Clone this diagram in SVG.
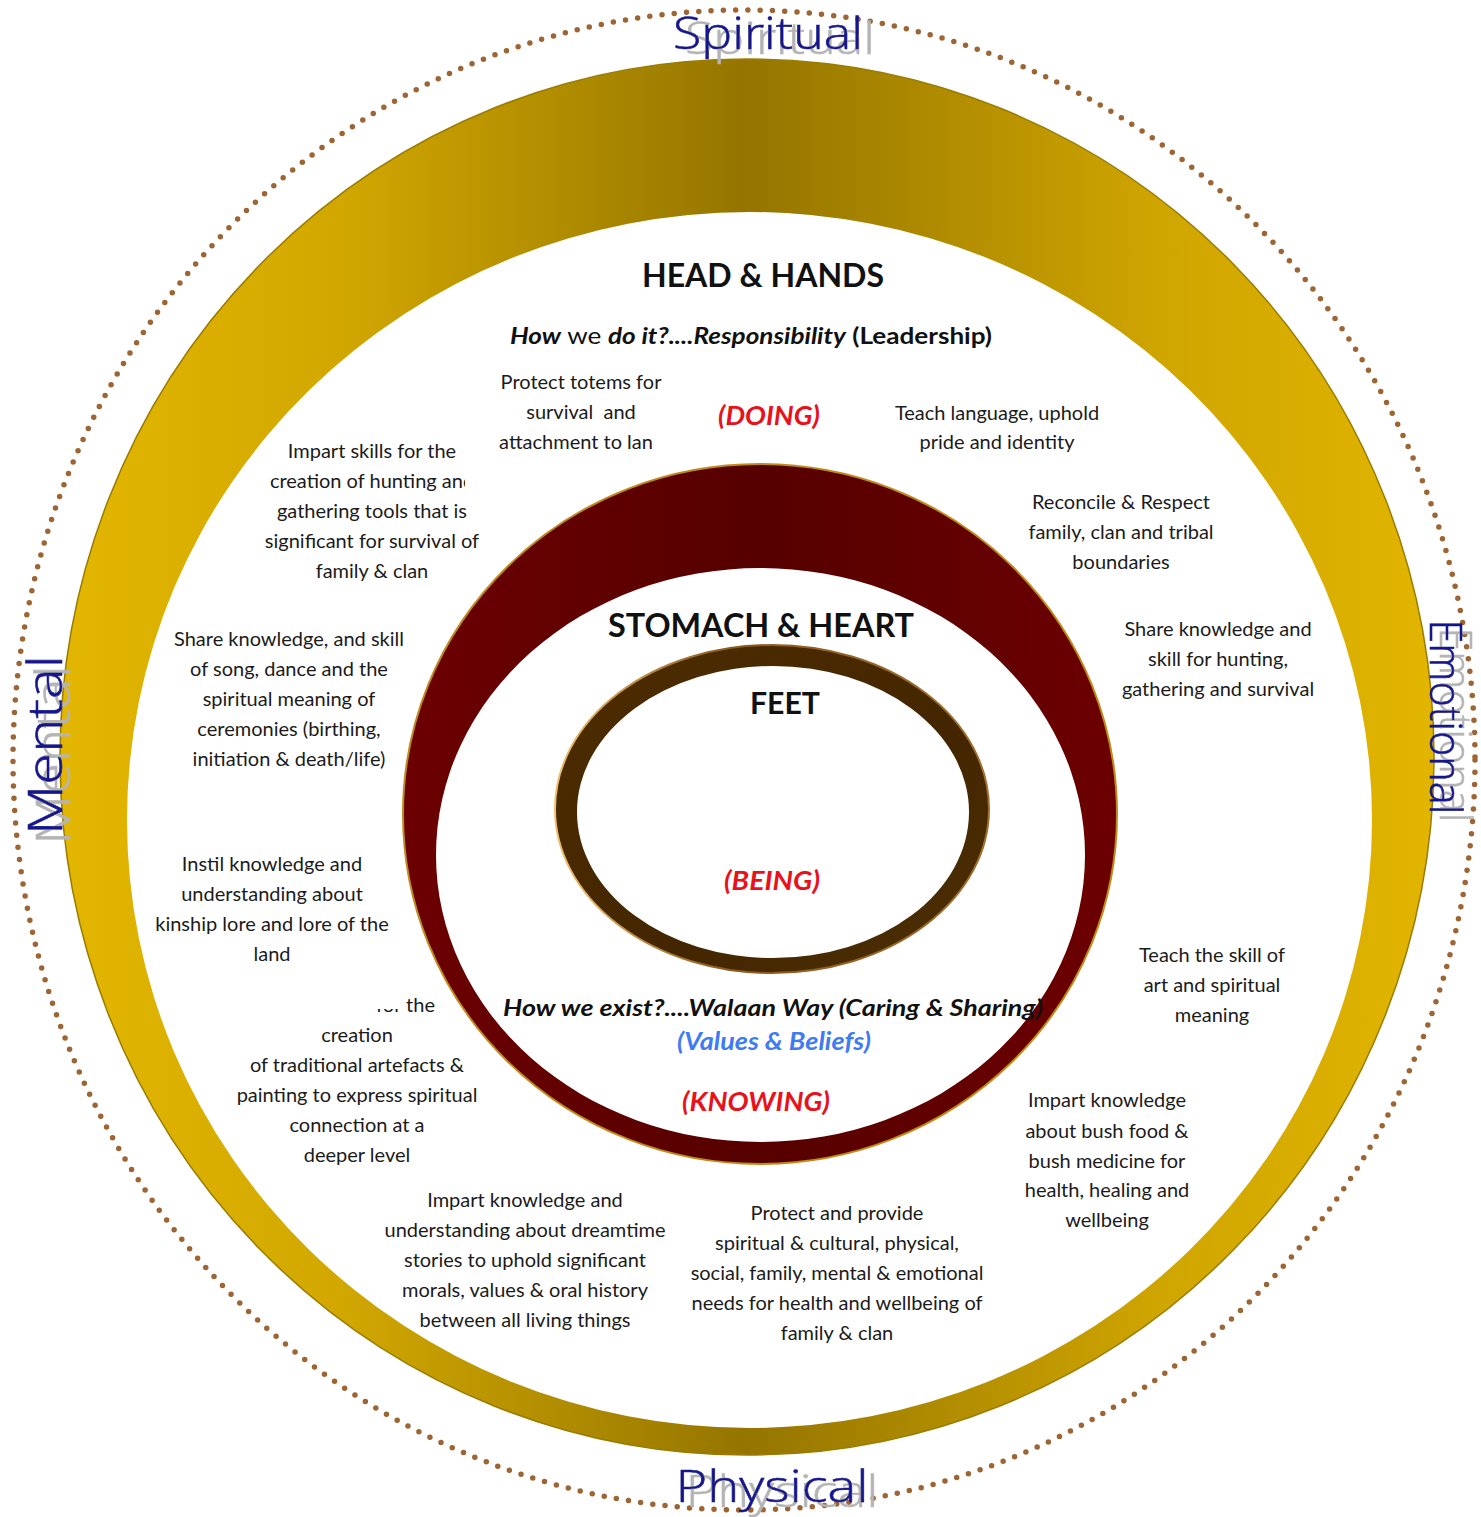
<svg xmlns="http://www.w3.org/2000/svg" width="1481" height="1517" viewBox="0 0 1481 1517">
  <defs>
    <style>
      .body { font-family: Lato, "Liberation Sans", sans-serif; font-size: 20px; fill: #1b1b1b; text-anchor: middle; }
      .head { font-family: Lato, "Liberation Sans", sans-serif; font-weight: bold; fill: #111; text-anchor: middle; }
      .red { font-family: Lato, "Liberation Sans", sans-serif; font-weight: bold; font-style: italic; font-size: 26px; fill: #e8121c; text-anchor: middle; }
      .blue { font-family: Lato, "Liberation Sans", sans-serif; font-weight: bold; font-style: italic; font-size: 24px; fill: #3f7bf2; text-anchor: middle; }
      .bi { font-weight: bold; font-style: italic; }
      .dim { font-family: "Open Sans", "DejaVu Sans", sans-serif; font-weight: 300; font-size: 40px; text-anchor: middle; fill: #16188c; stroke: #16188c; stroke-width: 0.6; }
    </style>
    <!-- grey offset copy behind the dimension words -->
    <filter id="shadowSp" x="-20%" y="-50%" width="140%" height="200%">
      <feOffset in="SourceAlpha" dx="12" dy="5" result="o"/>
      <feFlood flood-color="#b4b4b4"/>
      <feComposite in2="o" operator="in" result="s"/>
      <feMerge><feMergeNode in="s"/><feMergeNode in="SourceGraphic"/></feMerge>
    </filter>
    <filter id="shadowMe" x="-50%" y="-20%" width="200%" height="140%">
      <feOffset in="SourceAlpha" dx="8" dy="10" result="o"/>
      <feFlood flood-color="#b4b4b4"/>
      <feComposite in2="o" operator="in" result="s"/>
      <feMerge><feMergeNode in="s"/><feMergeNode in="SourceGraphic"/></feMerge>
    </filter>
    <filter id="shadowEm" x="-50%" y="-20%" width="200%" height="140%">
      <feOffset in="SourceAlpha" dx="10" dy="8" result="o"/>
      <feFlood flood-color="#b4b4b4"/>
      <feComposite in2="o" operator="in" result="s"/>
      <feMerge><feMergeNode in="s"/><feMergeNode in="SourceGraphic"/></feMerge>
    </filter>
    <filter id="shadowPh" x="-20%" y="-50%" width="140%" height="200%">
      <feOffset in="SourceAlpha" dx="10" dy="5" result="o"/>
      <feFlood flood-color="#b4b4b4"/>
      <feComposite in2="o" operator="in" result="s"/>
      <feMerge><feMergeNode in="s"/><feMergeNode in="SourceGraphic"/></feMerge>
    </filter>
    <linearGradient id="gold" x1="0" y1="0" x2="1" y2="0">
      <stop offset="0" stop-color="#e3b600"/>
      <stop offset="0.2" stop-color="#d2a800"/>
      <stop offset="0.5" stop-color="#957500"/>
      <stop offset="0.8" stop-color="#cfa500"/>
      <stop offset="1" stop-color="#e2b500"/>
    </linearGradient>
    <linearGradient id="maroon" x1="0" y1="0" x2="1" y2="0">
      <stop offset="0" stop-color="#6c0000"/>
      <stop offset="0.5" stop-color="#560000"/>
      <stop offset="1" stop-color="#6c0000"/>
    </linearGradient>
    <linearGradient id="umber" x1="0" y1="0" x2="1" y2="1">
      <stop offset="0" stop-color="#4e2c00"/>
      <stop offset="0.6" stop-color="#432600"/>
      <stop offset="1" stop-color="#4d3004"/>
    </linearGradient>
    <linearGradient id="umberEdge" x1="0" y1="0" x2="1" y2="0">
      <stop offset="0" stop-color="#f0c070"/>
      <stop offset="0.4" stop-color="#8a5a20"/>
      <stop offset="1" stop-color="#a07030"/>
    </linearGradient>
    <clipPath id="clipHunting">
      <rect x="0" y="460" width="465" height="40"/>
    </clipPath>
    <clipPath id="clipForThe">
      <rect x="402" y="985" width="100" height="40"/>
      <rect x="300" y="1009" width="102" height="20"/>
    </clipPath>
  </defs>

  <rect width="1481" height="1517" fill="#ffffff"/>

  <!-- dotted boundary circle -->
  <g id="boundary">
    <ellipse cx="744" cy="760" rx="731" ry="750" fill="none" stroke="#9c6533" stroke-width="5.5" stroke-linecap="round" stroke-dasharray="0 12.3"/>
  </g>

  <!-- outer gold ring: head & hands -->
  <g id="ring-head-hands">
    <path fill="url(#gold)" fill-rule="evenodd" d="M60,757 a687,698 0 1,0 1374,0 a687,698 0 1,0 -1374,0Z M127,820 a622.5,608 0 1,0 1245,0 a622.5,608 0 1,0 -1245,0Z"/>
    <ellipse cx="747" cy="757" rx="687" ry="698" fill="none" stroke="#9a7c00" stroke-width="1.5"/>
  </g>

  <!-- middle maroon ring: stomach & heart -->
  <g id="ring-stomach-heart">
    <path fill="url(#maroon)" fill-rule="evenodd" d="M403,814 a357,350 0 1,0 714,0 a357,350 0 1,0 -714,0Z M436,855 a324.5,287 0 1,0 649,0 a324.5,287 0 1,0 -649,0Z"/>
    <ellipse cx="760" cy="814" rx="357" ry="350" fill="none" stroke="#c08a1c" stroke-width="2"/>
  </g>

  <!-- inner brown ring: feet -->
  <g id="ring-feet">
    <path fill="url(#umber)" fill-rule="evenodd" d="M555,809 a217,164 0 1,0 434,0 a217,164 0 1,0 -434,0Z M577,812 a196,146 0 1,0 392,0 a196,146 0 1,0 -392,0Z"/>
    <ellipse cx="772" cy="809" rx="217" ry="164" fill="none" stroke="url(#umberEdge)" stroke-width="2"/>
  </g>

  <!-- level titles -->
  <g id="title-head">
    <text class="head" x="763" y="287" font-size="32" textLength="242" lengthAdjust="spacingAndGlyphs">HEAD &amp; HANDS</text>
    <text x="751" y="344" font-family="Lato, 'Liberation Sans', sans-serif" font-size="23" fill="#111" text-anchor="middle" textLength="482" lengthAdjust="spacingAndGlyphs"><tspan class="bi">How</tspan> we <tspan class="bi">do it?....Responsibility</tspan><tspan font-weight="bold"> (Leadership)</tspan></text>
    <text class="red" x="769" y="425" textLength="102" lengthAdjust="spacingAndGlyphs">(DOING)</text>
  </g>
  <g id="title-stomach">
    <text class="head" x="761" y="637" font-size="32" textLength="306" lengthAdjust="spacingAndGlyphs">STOMACH &amp; HEART</text>
  </g>
  <g id="title-feet">
    <text class="head" x="785" y="714" font-size="31" textLength="70" lengthAdjust="spacingAndGlyphs">FEET</text>
    <text class="red" x="772" y="890" textLength="96" lengthAdjust="spacingAndGlyphs">(BEING)</text>
  </g>
  <g id="title-knowing">
    <text x="773" y="1016" font-family="Lato, 'Liberation Sans', sans-serif" font-size="23" fill="#111" text-anchor="middle" class="bi" textLength="540" lengthAdjust="spacingAndGlyphs">How we exist?....Walaan Way (Caring &amp; Sharing)</text>
    <text class="blue" x="774" y="1050" textLength="194" lengthAdjust="spacingAndGlyphs">(Values &amp; Beliefs)</text>
    <text class="red" x="756" y="1111" textLength="148" lengthAdjust="spacingAndGlyphs">(KNOWING)</text>
  </g>

  <!-- responsibilities -->
  <g id="totems" class="body">
    <text x="581" y="389">Protect totems for</text>
    <text x="581" y="419" xml:space="preserve">survival  and</text>
    <text x="576" y="449">attachment to lan</text>
  </g>
  <g id="language" class="body">
    <text x="997" y="420">Teach language, uphold</text>
    <text x="997" y="449">pride and identity</text>
  </g>
  <g id="tools" class="body">
    <text x="372" y="458">Impart skills for the</text>
    <text x="372" y="488" clip-path="url(#clipHunting)">creation of hunting and</text>
    <text x="372" y="518">gathering tools that is</text>
    <text x="372" y="548">significant for survival of</text>
    <text x="372" y="578">family &amp; clan</text>
  </g>
  <g id="boundaries" class="body">
    <text x="1121" y="509">Reconcile &amp; Respect</text>
    <text x="1121" y="539">family, clan and tribal</text>
    <text x="1121" y="569">boundaries</text>
  </g>
  <g id="hunting" class="body">
    <text x="1218" y="636">Share knowledge and</text>
    <text x="1218" y="666">skill for hunting,</text>
    <text x="1218" y="696">gathering and survival</text>
  </g>
  <g id="ceremonies" class="body">
    <text x="289" y="646">Share knowledge, and skill</text>
    <text x="289" y="676">of song, dance and the</text>
    <text x="289" y="706">spiritual meaning of</text>
    <text x="289" y="736">ceremonies (birthing,</text>
    <text x="289" y="766">initiation &amp; death/life)</text>
  </g>
  <g id="kinship" class="body">
    <text x="272" y="871">Instil knowledge and</text>
    <text x="272" y="901">understanding about</text>
    <text x="272" y="931">kinship lore and lore of the</text>
    <text x="272" y="961">land</text>
  </g>
  <g id="art" class="body">
    <text x="1212" y="962">Teach the skill of</text>
    <text x="1212" y="992">art and spiritual</text>
    <text x="1212" y="1022">meaning</text>
  </g>
  <g id="artefacts" class="body">
    <text x="435" y="1012" clip-path="url(#clipForThe)" style="text-anchor:end">for the</text>
    <text x="357" y="1042">creation</text>
    <text x="357" y="1072">of traditional artefacts &amp;</text>
    <text x="357" y="1102">painting to express spiritual</text>
    <text x="357" y="1132">connection at a</text>
    <text x="357" y="1162">deeper level</text>
  </g>
  <g id="bush-food" class="body">
    <text x="1107" y="1107">Impart knowledge</text>
    <text x="1107" y="1138">about bush food &amp;</text>
    <text x="1107" y="1168">bush medicine for</text>
    <text x="1107" y="1197">health, healing and</text>
    <text x="1107" y="1227">wellbeing</text>
  </g>
  <g id="dreamtime" class="body">
    <text x="525" y="1207">Impart knowledge and</text>
    <text x="525" y="1237">understanding about dreamtime</text>
    <text x="525" y="1267">stories to uphold significant</text>
    <text x="525" y="1297">morals, values &amp; oral history</text>
    <text x="525" y="1327">between all living things</text>
  </g>
  <g id="provide" class="body">
    <text x="837" y="1220">Protect and provide</text>
    <text x="837" y="1250">spiritual &amp; cultural, physical,</text>
    <text x="837" y="1280">social, family, mental &amp; emotional</text>
    <text x="837" y="1310">needs for health and wellbeing of</text>
    <text x="837" y="1340">family &amp; clan</text>
  </g>

  <!-- the four dimensions around the edge -->
  <g id="dim-spiritual" class="dim" filter="url(#shadowSp)">
    <text x="768" y="49" font-size="44" textLength="190" lengthAdjust="spacingAndGlyphs">Spiritual</text>
  </g>
  <g id="dim-mental" class="dim" filter="url(#shadowMe)">
    <text transform="translate(62,745) rotate(-90)" x="0" y="0" font-size="48" textLength="180" lengthAdjust="spacingAndGlyphs">Mental</text>
  </g>
  <g id="dim-emotional" class="dim" filter="url(#shadowEm)">
    <text transform="translate(1430,717) rotate(90)" x="0" y="0" font-size="44" textLength="195" lengthAdjust="spacingAndGlyphs">Emotional</text>
  </g>
  <g id="dim-physical" class="dim" filter="url(#shadowPh)">
    <text x="772" y="1502" font-size="44" textLength="193" lengthAdjust="spacingAndGlyphs">Physical</text>
  </g>
</svg>
